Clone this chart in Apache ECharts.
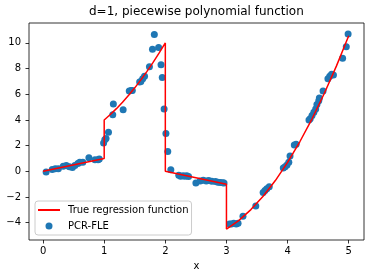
<!DOCTYPE html>
<html>
<head>
<meta charset="utf-8">
<script src="https://cdn.jsdelivr.net/npm/echarts@6/dist/echarts.min.js"></script>
<style>
html,body{margin:0;padding:0;background:#fff;}
#chart{width:370px;height:278px;}
</style>
</head>
<body>
<div id="chart"></div>
<script>
var titleText = 'd=1, piecewise polynomial function';
var xTicks = [0, 1, 2, 3, 4, 5];
var yTicks = [-4, -2, 0, 2, 4, 6, 8, 10];

var trueX = [0, 1, 1, 1.1, 1.2, 1.3, 1.4, 1.5, 1.6, 1.7, 1.8, 1.9, 2, 2, 3, 3, 3.2, 3.4, 3.6, 3.8, 4, 4.2, 4.4, 4.6, 4.8, 5];
var trueY = [0, 1, 4, 4.42, 4.88, 5.38, 5.92, 6.5, 7.12, 7.78, 8.48, 9.22, 10, 0, -1, -4.5, -3.84, -2.98, -1.94, -0.72, 0.7, 2.3, 4.09, 6.06, 8.21, 10.55];

var pcrX = [0.05, 0.15, 0.2, 0.25, 0.33, 0.38, 0.43, 0.48, 0.52, 0.57, 0.6, 0.65, 0.75, 0.85, 0.9, 0.92,
  0.99, 1.01, 1.03, 1.07, 1.14, 1.15, 1.31, 1.41, 1.44, 1.46, 1.58, 1.6, 1.63, 1.66, 1.74, 1.79, 1.82, 1.89, 1.93, 1.95, 1.98, 2.01, 2.04,
  2.09, 2.22, 2.25, 2.29, 2.32, 2.35, 2.38, 2.5, 2.57, 2.62, 2.67, 2.71, 2.76, 2.82, 2.86, 2.9, 2.94, 2.96,
  3.05, 3.08, 3.12, 3.16, 3.19, 3.27, 3.48, 3.6, 3.63, 3.66, 3.7, 3.93, 3.96, 3.99, 4.02, 4.04, 4.11, 4.14,
  4.35, 4.37, 4.4, 4.43, 4.46, 4.48, 4.51, 4.52, 4.58, 4.66, 4.69, 4.72, 4.75, 4.9, 4.96, 4.99];
var pcrY = [-0.05, 0.15, 0.2, 0.2, 0.4, 0.45, 0.35, 0.3, 0.45, 0.6, 0.7, 0.7, 1.05, 0.9, 0.9, 0.95,
  2.2, 2.45, 2.55, 3.05, 4.4, 5.25, 4.8, 6.25, 6.3, 6.3, 6.95, 7.0, 7.2, 7.4, 8.15, 9.5, 10.65, 9.65, 8.3, 7.3, 4.85, 2.95, 1.55,
  0.12, -0.3, -0.38, -0.35, -0.38, -0.35, -0.4, -0.92, -0.75, -0.7, -0.75, -0.72, -0.78, -0.8, -0.85, -0.88, -0.9, -0.92,
  -4.1, -4.1, -4.05, -4.1, -4.05, -3.5, -2.7, -1.65, -1.5, -1.35, -1.2, 0.25, 0.35, 0.5, 0.7, 1.2, 2.05, 2.1,
  4.0, 4.1, 4.35, 4.6, 4.85, 5.2, 5.5, 5.7, 6.25, 7.2, 7.4, 7.55, 7.5, 8.8, 9.7, 10.7];

var FONT = 'DejaVu Sans';
var chart = echarts.init(document.getElementById('chart'), null, {renderer: 'canvas'});
var fmt = function (v) { return String(v).replace('-', '\u2212'); };

chart.setOption({
  animation: false,
  backgroundColor: '#ffffff',
  title: {
    text: titleText,
    left: 89, top: 6, padding: 0,
    textStyle: {fontFamily: FONT, fontSize: 12, fontWeight: 'normal', color: '#000'}
  },
  grid: {
    left: 29, right: 6, top: 23, bottom: 38,
    show: true, borderColor: '#000', borderWidth: 0.8, backgroundColor: 'transparent'
  },
  legend: {
    orient: 'vertical',
    left: 35, top: 201,
    padding: [3, 3, 3, 2],
    itemWidth: 22, itemHeight: 7, itemGap: 4,
    borderColor: '#cccccc', borderWidth: 1, borderRadius: 3,
    backgroundColor: 'rgba(255,255,255,0.8)',
    data: [
      {name: 'True regression function', itemStyle: {opacity: 0}},
      {name: 'PCR-FLE'}
    ],
    textStyle: {fontFamily: FONT, fontSize: 10, color: '#000', lineHeight: 12, padding: [0, 0, 0, 3]}
  },
  xAxis: {
    type: 'value', min: -0.23, max: 5.25,
    name: 'x', nameLocation: 'middle', nameGap: 21,
    nameTextStyle: {fontFamily: FONT, fontSize: 10, color: '#000'},
    axisLine: {show: false, onZero: false},
    splitLine: {show: false},
    axisTick: {show: true, length: 3.5, customValues: xTicks, lineStyle: {color: '#000', width: 0.8}},
    axisLabel: {customValues: xTicks, margin: 6, fontFamily: FONT, fontSize: 10, color: '#000', formatter: fmt}
  },
  yAxis: {
    type: 'value', min: -5.35, max: 11.55,
    axisLine: {show: false, onZero: false},
    splitLine: {show: false},
    axisTick: {show: true, length: 3.5, customValues: yTicks, lineStyle: {color: '#000', width: 0.8}},
    axisLabel: {customValues: yTicks, margin: 8, fontFamily: FONT, fontSize: 10, color: '#000', formatter: fmt}
  },
  series: [
    {
      name: 'True regression function',
      type: 'line',
      z: 3,
      symbol: 'none',
      data: trueX.map(function (x, i) { return [x, trueY[i]]; }),
      lineStyle: {color: '#ff0000', width: 1.5},
      itemStyle: {color: '#ff0000'}
    },
    {
      name: 'PCR-FLE',
      type: 'scatter',
      z: 2,
      symbol: 'circle',
      symbolSize: 7,
      data: pcrX.map(function (x, i) { return [x, pcrY[i]]; }),
      itemStyle: {color: '#1f77b4', opacity: 1}
    }
  ]
});
</script>
</body>
</html>
